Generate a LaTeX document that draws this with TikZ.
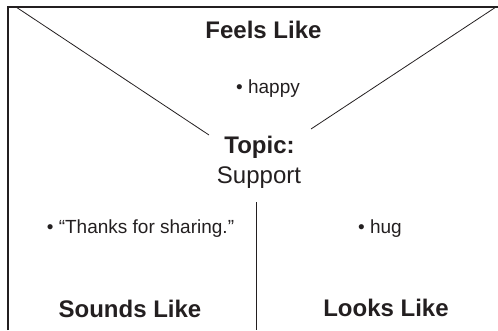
\documentclass[tikz,border=0pt]{standalone}
\usepackage{fontspec}
\setmainfont{Liberation Sans}
\usepackage{xcolor}
\usepackage{tikz}

\definecolor{ink}{HTML}{231F20}

\begin{document}
\begin{tikzpicture}[x=1pt,y=-1pt,
	head/.style={anchor=base,font=\fontsize{24}{28}\selectfont\bfseries,text=ink},
	topic/.style={anchor=base,font=\fontsize{24}{28}\selectfont,text=ink},
	item/.style={anchor=base,font=\fontsize{19}{23}\selectfont,text=ink}]

\useasboundingbox (0,0) rectangle (498,330);

% frame
\coordinate (bl) at (8,330);
\coordinate (tl) at (8,7);
\coordinate (tr) at (498,7);
\draw[line width=1.2,ink] (bl)--(tl)--(tr);

% diagonals and divider
\coordinate (dl1) at (16,7);
\coordinate (dl2) at (209,135);
\coordinate (dr1) at (311,129);
\coordinate (dr2) at (496,7);
\coordinate (v1) at (256,202);
\coordinate (v2) at (256,330);

\draw[line width=0.8,ink] (dl1)--(dl2);
\draw[line width=0.8,ink] (dr1)--(dr2);
\draw[line width=0.8,ink] (v1)--(v2);

% labels
\node[head] (feels) at (263.5,38) {Feels Like};
\node[item] (happy) at (268,93) {\textbullet\ happy};

\node[head] (topic) at (259.5,153) {Topic:};
\node[topic] (support) at (259,183) {Support};

\node[item] (thanks) at (140.5,233) {\textbullet\ “Thanks for sharing.”};
\node[item] (hug) at (380,233) {\textbullet\ hug};

\node[head] (sounds) at (130,317) {Sounds Like};
\node[head] (looks) at (386,316) {Looks Like};

\end{tikzpicture}
\end{document}
